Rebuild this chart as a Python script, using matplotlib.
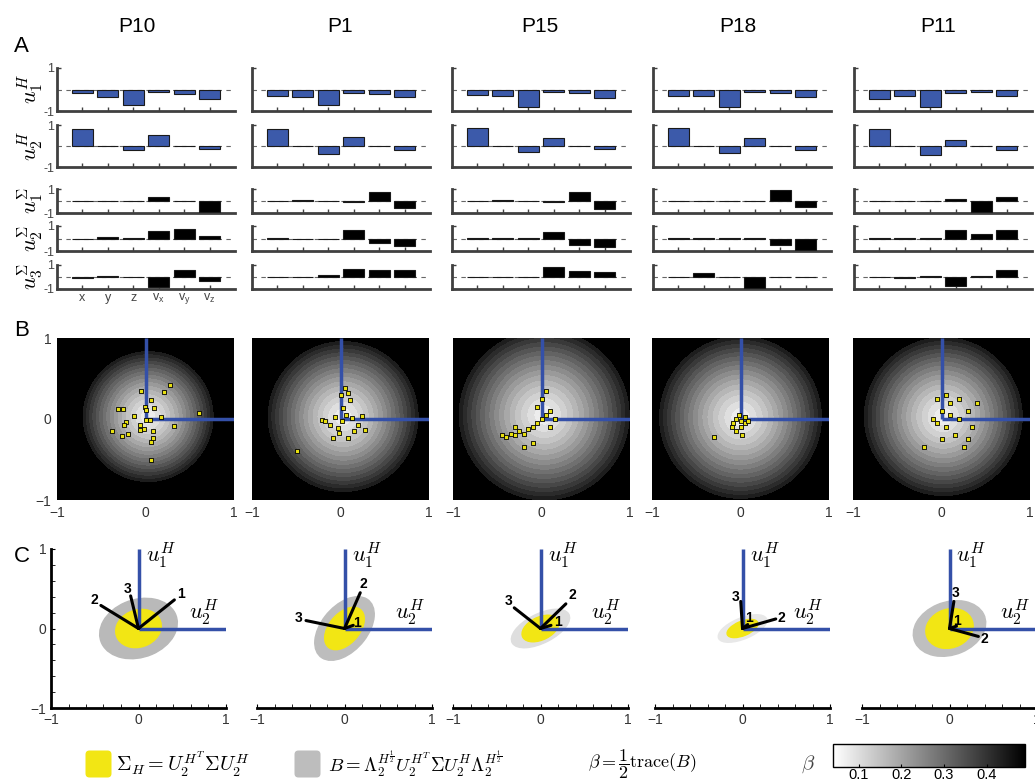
import numpy as np
import matplotlib.pyplot as plt
import matplotlib as mpl
from matplotlib.patches import Ellipse, FancyBboxPatch

plt.rcParams['font.family'] = ['Liberation Sans', 'DejaVu Sans']
plt.rcParams['mathtext.fontset'] = 'cm'

W, H = 1035, 783
fig = plt.figure(figsize=(W / 100, H / 100), dpi=100)


def px_axes(x0, y0, w, h):
    # pixel box (top-left origin) -> figure axes
    return fig.add_axes([x0 / W, 1 - (y0 + h) / H, w / W, h / H])


# ---------------- data ----------------
participants = ['P10', 'P1', 'P15', 'P18', 'P11']
dims = ['x', 'y', 'z', r'v$_\mathregular{x}$', r'v$_\mathregular{y}$', r'v$_\mathregular{z}$']
row_labels = [r'$u_1^H$', r'$u_2^H$', r'$u_1^\Sigma$', r'$u_2^\Sigma$', r'$u_3^\Sigma$']

u1H = [[-0.17, -0.37, -0.73, -0.11, -0.22, -0.46],
       [-0.32, -0.35, -0.73, -0.16, -0.19, -0.37],
       [-0.24, -0.30, -0.80, -0.13, -0.16, -0.38],
       [-0.29, -0.30, -0.83, -0.13, -0.14, -0.33],
       [-0.42, -0.29, -0.82, -0.16, -0.11, -0.29]]
u2H = [[0.82, 0.01, -0.21, 0.53, 0.01, -0.13],
       [0.80, 0.01, -0.37, 0.42, 0.01, -0.20],
       [0.85, 0.01, -0.29, 0.40, 0.01, -0.16],
       [0.85, 0.01, -0.34, 0.37, 0.01, -0.18],
       [0.82, 0.01, -0.45, 0.29, 0.01, -0.18]]
u1S = [[0.03, -0.02, -0.02, 0.37, 0.01, -0.95],
       [0.01, 0.05, 0.01, -0.12, 0.75, -0.60],
       [0.01, 0.07, -0.03, -0.05, 0.75, -0.70],
       [0.01, 0.03, -0.02, -0.04, 0.90, -0.50],
       [-0.02, -0.02, 0.02, 0.15, -0.92, 0.32]]
u2S = [[-0.02, 0.10, 0.01, 0.57, 0.78, 0.20],
       [0.03, -0.03, -0.03, 0.70, -0.33, -0.62],
       [0.01, 0.01, 0.01, 0.55, -0.55, -0.68],
       [0.01, 0.01, 0.01, 0.02, -0.50, -0.92],
       [0.01, 0.01, 0.01, 0.65, 0.35, 0.68]]
u3S = [[-0.05, 0.05, 0.02, -0.80, 0.60, -0.30],
       [-0.03, -0.03, 0.13, 0.68, 0.55, 0.55],
       [-0.03, -0.03, -0.01, 0.85, 0.47, 0.38],
       [0.01, 0.30, 0.01, -0.92, -0.03, 0.04],
       [-0.03, -0.08, 0.05, -0.72, 0.12, 0.62]]
rows_A = [u1H, u2H, u1S, u2S, u3S]

# panel B: projected points (x, y) per participant
pts_B = [
    [(0.28, 0.42), (0.21, 0.33), (-0.05, 0.34), (0.06, 0.24), (-0.01, 0.15), (0.0, 0.11),
     (0.10, 0.13), (-0.31, 0.12), (-0.25, 0.12), (0.61, 0.08), (-0.13, 0.04), (0.18, 0.03),
     (0.01, -0.01), (0.05, -0.01), (-0.22, -0.04), (-0.24, -0.07), (-0.06, -0.08), (0.32, -0.09),
     (-0.02, -0.12), (-0.06, -0.14), (0.09, -0.15), (-0.38, -0.15), (-0.20, -0.18), (-0.26, -0.21),
     (0.08, -0.23), (0.06, -0.29), (0.06, -0.50)],
    [(0.05, 0.38), (0.01, 0.30), (0.11, 0.23), (0.03, 0.14), (0.08, 0.32), (-0.21, -0.01),
     (-0.12, -0.07), (-0.03, -0.11), (0.13, 0.01), (0.20, -0.07), (0.28, -0.14), (0.08, -0.23),
     (-0.08, -0.23), (-0.17, -0.03), (0.02, -0.03), (0.06, 0.05), (-0.06, 0.02), (0.15, -0.15),
     (-0.49, -0.40), (0.24, 0.04), (-0.02, -0.17)],
    [(-0.45, -0.20), (-0.40, -0.22), (-0.35, -0.18), (-0.30, -0.20), (-0.25, -0.15), (-0.20, -0.18),
     (-0.15, -0.12), (-0.10, -0.10), (-0.05, -0.05), (0.0, 0.0), (0.05, 0.05), (0.10, 0.10),
     (-0.05, 0.15), (0.0, 0.25), (0.05, 0.35), (-0.10, -0.30), (-0.20, -0.35), (0.10, -0.10),
     (0.15, 0.0), (-0.30, -0.10)],
    [(-0.05, 0.0), (0.0, -0.03), (0.05, -0.05), (-0.10, -0.10), (-0.05, -0.15), (0.0, -0.10),
     (0.05, 0.02), (-0.02, 0.05), (0.08, -0.02), (-0.30, -0.22), (0.02, -0.20), (-0.08, -0.05)],
    [(0.0, 0.10), (0.10, 0.05), (0.20, 0.0), (-0.05, -0.05), (0.05, -0.10), (-0.10, 0.0),
     (0.15, -0.20), (0.0, -0.25), (-0.20, -0.35), (0.30, -0.25), (0.25, -0.35), (0.35, -0.10),
     (0.10, 0.20), (0.20, 0.25), (0.30, 0.10), (0.05, 0.30), (-0.05, 0.25), (0.40, 0.20)],
]
# panel B: centre and radius (px) of the beta field
field_cx = [0.03, 0.03, 0.03, 0.0, 0.02]
field_cy = [0.03, 0.03, 0.05, 0.02, 0.03]
field_R = [66, 76, 86, 82, 80]

# panel C: ellipses (a, b, angle) for B (gray) and Sigma_H (yellow)
gray_ell = [(0.46, 0.36, 25), (0.45, 0.27, 55), (0.37, 0.18, 30), (0.30, 0.13, 25), (0.43, 0.33, 25)]
gray_col = ['#b9b9b9', '#bdbdbd', '#dedede', '#e8e8e8', '#bfbfbf']
yel_ell = [(0.27, 0.23, 30), (0.30, 0.18, 55), (0.23, 0.14, 30), (0.19, 0.09, 25), (0.28, 0.24, 30)]
# panel C: eigenvector ends and label positions (1, 2, 3)
vec_end = [
    [(0.41, 0.36), (-0.43, 0.29), (-0.09, 0.41)],
    [(0.10, 0.04), (0.18, 0.45), (-0.44, 0.10)],
    [(0.12, 0.04), (0.29, 0.31), (-0.30, 0.26)],
    [(0.06, 0.05), (0.38, 0.12), (-0.02, 0.34)],
    [(0.08, 0.03), (0.33, -0.10), (0.05, 0.34)],
]
vec_lab = [
    [(0.48, 0.43), (-0.50, 0.36), (-0.13, 0.50)],
    [(0.14, 0.07), (0.22, 0.56), (-0.52, 0.13)],
    [(0.20, 0.08), (0.36, 0.42), (-0.36, 0.35)],
    [(0.07, 0.13), (0.44, 0.13), (-0.08, 0.40)],
    [(0.09, 0.10), (0.40, -0.13), (0.07, 0.45)],
]

BLUE = '#3c5aaa'
LBLUE = '#3450a8'
YEL = '#f2e614'
SPINE = '#404040'

# ---------------- layout ----------------
A_left = [57, 252, 452, 653, 854]
A_w = 178
A_rows = [(68, 43), (125, 42), (189, 24), (226, 25), (265, 24)]
B_left = [57, 252, 453, 652, 853]
B_w, B_top, B_h = 177, 338, 162
C_left = [51, 257, 453, 655, 862]
C_w, C_top, C_h = 175, 549, 159

# ---------------- panel A ----------------
for j in range(5):
    for i, (top, h) in enumerate(A_rows):
        ax = px_axes(A_left[j], top, A_w, h)
        vals = rows_A[i][j]
        col = BLUE if i < 2 else 'black'
        ax.bar(np.arange(1, 7), vals, width=0.82, color=col, edgecolor='#1a1a1a', linewidth=0.8, zorder=3)
        ax.axhline(0, color='#666666', lw=0.8, ls=(0, (4, 4)), zorder=1)
        ax.set_xlim(0, 7)
        ax.set_ylim(-1, 1)
        for s in ['top', 'right']:
            ax.spines[s].set_visible(False)
        for s in ['left', 'bottom']:
            ax.spines[s].set_color(SPINE)
            ax.spines[s].set_linewidth(2)
        ax.set_xticks(np.arange(1, 7))
        ax.set_yticks([-1, 1])
        ax.tick_params(direction='in', length=3, width=1, color=SPINE, labelsize=9, labelcolor='#444444', pad=2)
        if j == 0 and i == 4:
            ax.set_xticklabels(dims)
        else:
            ax.set_xticklabels([])
        if j == 0:
            ax.set_yticklabels(['-1', '1'])
        else:
            ax.set_yticklabels([])

# ---------------- panel B ----------------
gx = np.linspace(-1, 1, 400)
GX, GY = np.meshgrid(gx, gx)
levels = np.linspace(0.06, 0.45, 17)
norm = mpl.colors.Normalize(vmin=0.04, vmax=0.49)
for j in range(5):
    ax = px_axes(B_left[j], B_top, B_w, B_h)
    ax.set_facecolor('black')
    r = np.hypot((GX - field_cx[j]) * B_w / 2, (GY - field_cy[j]) * B_h / 2)
    beta = 0.06 + 0.39 * (r / field_R[j]) ** 1.3
    ax.contourf(GX, GY, beta, levels=levels, cmap='gray_r', norm=norm, extend='max')
    ax.plot([0, 0], [0, 1], color=LBLUE, lw=2.5, solid_capstyle='butt')
    ax.plot([0, 1], [0, 0], color=LBLUE, lw=2.5, solid_capstyle='butt')
    p = np.array(pts_B[j])
    ax.scatter(p[:, 0], p[:, 1], marker='s', s=10, facecolor='#e8e010', edgecolor='black', linewidth=0.6, zorder=4)
    ax.set_xlim(-1, 1)
    ax.set_ylim(-1, 1)
    for s in ax.spines.values():
        s.set_visible(False)
    ax.set_xticks([-1, 0, 1])
    ax.set_yticks([-1, 0, 1])
    ax.tick_params(length=0, labelsize=10, labelcolor='#333333', pad=4)
    if j > 0:
        ax.set_yticklabels([])

# ---------------- panel C ----------------
for j in range(5):
    ax = px_axes(C_left[j], C_top, C_w, C_h)
    ax.patch.set_visible(False)
    a, b, ang = gray_ell[j]
    ax.add_patch(Ellipse((0, 0), 2 * a, 2 * b, angle=ang, color=gray_col[j], zorder=1))
    a, b, ang = yel_ell[j]
    ax.add_patch(Ellipse((0, 0), 2 * a, 2 * b, angle=ang, color=YEL, zorder=2))
    ax.plot([0, 0], [0, 1], color=LBLUE, lw=2.5, zorder=3, solid_capstyle='butt')
    ax.plot([0, 1], [0, 0], color=LBLUE, lw=2.5, zorder=3, solid_capstyle='butt')
    for k in range(3):
        ex, ey = vec_end[j][k]
        ax.plot([0, ex], [0, ey], color='black', lw=2.2, zorder=4, solid_capstyle='round')
        lx, ly = vec_lab[j][k]
        ax.text(lx, ly, str(k + 1), fontsize=10, fontweight='bold', ha='center', va='center', zorder=5)
    ax.text(0.08, 0.92, r'$u_1^H$', fontsize=16, ha='left', va='center')
    ax.text(0.58, 0.2, r'$u_2^H$', fontsize=16, ha='left', va='center')
    ax.set_xlim(-1, 1)
    ax.set_ylim(-1, 1)
    for s in ['top', 'right']:
        ax.spines[s].set_visible(False)
    ax.spines['bottom'].set_linewidth(2)
    ax.spines['left'].set_linewidth(2)
    ax.set_xticks([-1, 0, 1])
    ax.set_xticks(np.arange(-1, 1.01, 0.2), minor=True)
    ax.tick_params(which='both', direction='in', length=3, labelsize=10, labelcolor='#333333')
    if j == 0:
        ax.set_yticks([-1, 0, 1])
        ax.set_yticks(np.arange(-1, 1.01, 0.2), minor=True)
    else:
        ax.spines['left'].set_visible(False)
        ax.set_yticks([])
        ax.set_yticks([], minor=True)

# ---------------- overlay: titles, labels, legend ----------------
ov = fig.add_axes([0, 0, 1, 1])
ov.set_xlim(0, W)
ov.set_ylim(H, 0)
ov.axis('off')
title_x = [137, 340, 540, 738, 938]
for j, name in enumerate(participants):
    ov.text(title_x[j], 27, name, fontsize=15, ha='center', va='center')
for lab, y in zip(['A', 'B', 'C'], [47, 330, 557]):
    ov.text(14, y, lab, fontsize=16, ha='left', va='center')
for lab, (top, h) in zip(row_labels, A_rows):
    ov.text(30, top + h / 2, lab, fontsize=16, rotation=90, ha='center', va='center')

ov.add_patch(FancyBboxPatch((87, 752), 23, 24, boxstyle='round,pad=1.5,rounding_size=4',
                            facecolor=YEL, edgecolor='none'))
ov.text(116, 764, r'$\Sigma_H = U_2^{H^T}\Sigma U_2^H$', fontsize=14.5, ha='left', va='center')
ov.add_patch(FancyBboxPatch((296, 752), 23, 24, boxstyle='round,pad=1.5,rounding_size=4',
                            facecolor='#bdbdbd', edgecolor='none'))
ov.text(328, 764, r'$B = \Lambda_2^{H^{\frac{1}{2}}} U_2^{H^T}\Sigma U_2^H \Lambda_2^{H^{\frac{1}{2}}}$',
        fontsize=13.5, ha='left', va='center')
ov.text(588, 764, r'$\beta = \dfrac{1}{2}\mathrm{trace}(B)$', fontsize=13, ha='left', va='center')
ov.text(808, 764, r'$\beta$', fontsize=15, ha='center', va='center', color='#444444')

cax = px_axes(833, 744, 192, 23)
cb = fig.colorbar(mpl.cm.ScalarMappable(norm=norm, cmap='gray_r'), cax=cax, orientation='horizontal')
cb.set_ticks([0.1, 0.2, 0.3, 0.4])
cb.ax.tick_params(labelsize=10.5, length=2, direction='in', pad=1)
cb.outline.set_linewidth(1)

fig.savefig('out.png', dpi=100)
